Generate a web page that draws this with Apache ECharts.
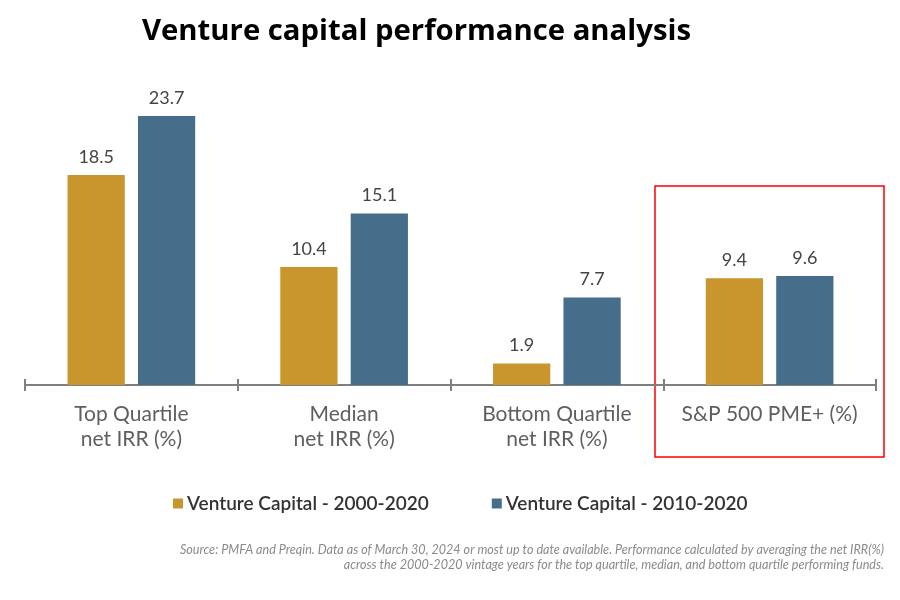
<!DOCTYPE html>
<html><head><meta charset="utf-8">
<script src="https://cdn.jsdelivr.net/npm/echarts@6/dist/echarts.min.js"></script>
<style>html,body{margin:0;padding:0;background:#fff}#c{width:900px;height:600px}</style>
</head><body><div id="c"></div>
<script>
const categories = ['Top Quartile\nnet IRR (%)', 'Median\nnet IRR (%)', 'Bottom Quartile\nnet IRR (%)', 'S&P 500 PME+ (%)'];
const seriesNames = ['Venture Capital - 2000-2020', 'Venture Capital - 2010-2020'];
const vc2000 = [18.5, 10.4, 1.9, 9.4];
const vc2010 = [23.7, 15.1, 7.7, 9.6];
const colors = ['#C9952D', '#466E8A'];
const sourceLines = ['Source: PMFA and Preqin. Data as of March 30, 2024 or most up to date available. Performance calculated by averaging the net IRR(%)',
  'across the 2000-2020 vintage years for the top quartile, median, and bottom quartile performing funds.'];

const chart = echarts.init(document.getElementById('c'));
const labelStyle = {show: true, position: 'top', distance: 9, color: '#444', fontFamily: 'Lato', fontSize: 18, formatter: p => p.value.toFixed(1)};
chart.setOption({
  animation: false,
  title: {text: 'Venture capital performance analysis', left: 137, top: 12,
    textStyle: {fontFamily: 'Open Sans', fontWeight: 'bold', fontSize: 29.3, color: '#000'}},
  legend: {top: 489, left: 168, itemGap: 63, itemWidth: 10, itemHeight: 10, icon: 'rect',
    textStyle: {fontFamily: 'Lato', fontSize: 19, fontWeight: 600, color: '#333', padding: [0,0,0,-1]},
    data: seriesNames},
  grid: {left: 25, right: 24, top: 44.5, bottom: 215},
  xAxis: [{type: 'category', data: categories,
    axisLine: {lineStyle: {color: '#7f7f7f', width: 2}},
    axisTick: {show: true, length: 6, lineStyle: {color: '#7f7f7f', width: 2}},
    axisLabel: {interval: 0, color: '#5f5f5f', fontFamily: 'Lato', fontSize: 21, lineHeight: 25, margin: 17}},
   {type: 'category', data: categories, position: 'bottom',
    axisLine: {show: false}, axisLabel: {show: false},
    axisTick: {show: true, inside: true, length: 6, lineStyle: {color: '#7f7f7f', width: 2}}}],
  yAxis: {type: 'value', min: 0, max: 30, show: false, splitLine: {show: false}},
  series: [
    {name: seriesNames[0], type: 'bar', data: vc2000, itemStyle: {color: colors[0]}, barGap: '23%', barCategoryGap: '40%', label: labelStyle},
    {name: seriesNames[1], type: 'bar', data: vc2010, itemStyle: {color: colors[1]}, label: labelStyle}
  ],
  graphic: [
    {type: 'rect', shape: {x: 655, y: 186, width: 229, height: 271}, style: {fill: 'none', stroke: '#ff0000', lineWidth: 1.5}},
    {type: 'text', x: 884, y: 550, style: {text: sourceLines[0], align: 'right', verticalAlign: 'middle',
      fontFamily: 'Lato', fontStyle: 'italic', fontSize: 12.6, fill: '#8a8a8a'}},
    {type: 'text', x: 884, y: 565, style: {text: sourceLines[1], align: 'right', verticalAlign: 'middle',
      fontFamily: 'Lato', fontStyle: 'italic', fontSize: 12.6, fill: '#8a8a8a'}}
  ]
});
</script></body></html>
